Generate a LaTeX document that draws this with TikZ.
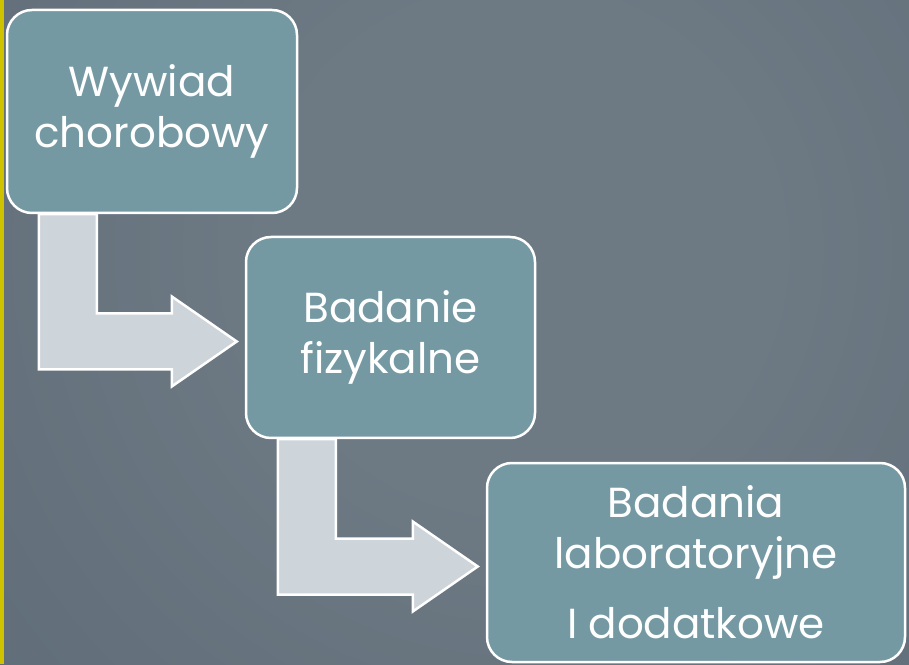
\documentclass[tikz,border=0pt]{standalone}
\usepackage{fontspec}
\usepackage{tikz}
\usetikzlibrary{calc, positioning}
\newfontfamily\boxfont{Poppins}
\definecolor{bglight}{HTML}{6D7983}
\definecolor{bgmid}{HTML}{5B6975}
\definecolor{bgdeep}{HTML}{4A5660}
\definecolor{bgdark}{HTML}{34404A}
\definecolor{sideyellow}{HTML}{CFC300}
\definecolor{boxteal}{HTML}{7599A3}
\definecolor{arrowgray}{HTML}{CDD4DA}
\pgfdeclareradialshading{slidebg}{\pgfpoint{0bp}{0bp}}{color(0bp)=(bglight); color(9bp)=(bglight);
  color(31bp)=(bgmid); color(41bp)=(bgdeep); color(47.5bp)=(bgdark); color(50bp)=(bgdark)}

\begin{document}
\begin{tikzpicture}[x=1pt, y=1pt,
    stagebox/.style={draw=white, line width=2.5pt, fill=boxteal, rounded corners=25pt,
      text=white, align=center, inner sep=0pt,
      font=\boxfont\fontsize{42}{51}\selectfont},
    bentarrow/.style={draw=white, line width=2.5pt, fill=arrowgray, line join=miter}]
  % background
  \useasboundingbox (0,0) rectangle (909,664);
  \fill[bgdark] (0,0) rectangle (909,664);
  \begin{scope}
    \clip (0,0) rectangle (909,664);
    \shade[shading=slidebg] (520,414) circle (700);
  \end{scope}
  \fill[sideyellow] (0,0) rectangle (4,664);

  % stages
  \node[stagebox, minimum width=290, minimum height=203] (wywiad) at (152,552.5)
    {Wywiad\\chorobowy};
  \node[stagebox, minimum width=289, minimum height=201] (badanie) at (390.5,326.5)
    {Badanie\\fizykalne};
  \node[stagebox, minimum width=418, minimum height=199] (badania) at (696,101.5)
    {Badania\\laboratoryjne\\[19pt]I dodatkowe};

  % bent arrows between stages
  \foreach \src/\dst in {wywiad/badanie, badanie/badania}
    \draw[bentarrow] let \p1=(\src.south west), \p2=(\dst.west), \n1={\y2-4pt} in
      (\x1+33pt,\y1) -- (\x1+91pt,\y1) -- (\x1+91pt,\n1+28pt) -- (\x2-73pt,\n1+28pt)
      -- (\x2-73pt,\n1+45pt) -- (\x2-8pt,\n1) -- (\x2-73pt,\n1-45pt)
      -- (\x2-73pt,\n1-28pt) -- (\x1+33pt,\n1-28pt) -- cycle;
\end{tikzpicture}
\end{document}
